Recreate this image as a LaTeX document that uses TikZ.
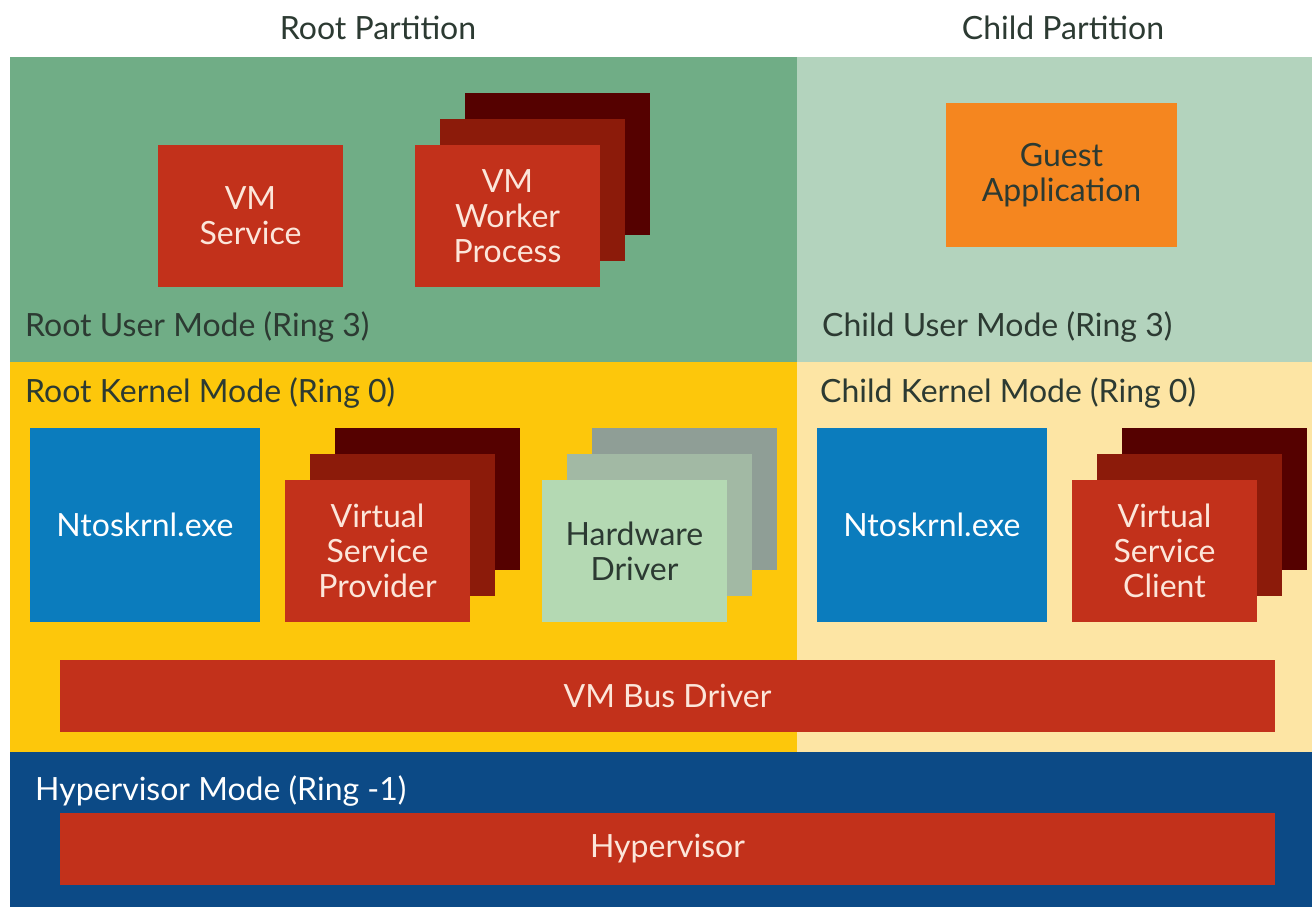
\documentclass[tikz,border=0pt]{standalone}
\usepackage{fontspec}
\setmainfont{Lato}
\definecolor{rootuser}{HTML}{70AD86}
\definecolor{childuser}{HTML}{B3D3BD}
\definecolor{rootkernel}{HTML}{FDC70B}
\definecolor{childkernel}{HTML}{FDE5A4}
\definecolor{hyperblue}{HTML}{0C4A86}
\definecolor{redfront}{HTML}{C2311B}
\definecolor{redmid}{HTML}{8C1B0A}
\definecolor{redback}{HTML}{550100}
\definecolor{ntblue}{HTML}{0B7CBD}
\definecolor{guestorange}{HTML}{F5861F}
\definecolor{hwfront}{HTML}{B4D9B3}
\definecolor{hwmid}{HTML}{A2B9A4}
\definecolor{hwback}{HTML}{8F9E96}
\definecolor{labeltext}{HTML}{2C3A32}
\definecolor{lighttext}{HTML}{FCE6DA}
\begin{document}
\begin{tikzpicture}[x=1pt,y=-1pt,
  area/.style={anchor=north west, inner sep=0pt, outer sep=0pt},
  blk/.style={anchor=north west, inner sep=0pt, outer sep=0pt, align=center,
    font=\fontsize{32}{35}\selectfont, text=lighttext},
  redbox/.style={blk, fill=redfront, minimum width=185pt, minimum height=142pt},
  midbox/.style={blk, fill=redmid, minimum width=185pt, minimum height=142pt},
  backbox/.style={blk, fill=redback, minimum width=185pt, minimum height=142pt},
  modelabel/.style={anchor=west, inner sep=0pt, font=\fontsize{32}{36}\selectfont, text=labeltext},
  title/.style={inner sep=0pt, font=\fontsize{32}{36}\selectfont, text=labeltext}]
\useasboundingbox (0,0) rectangle (1312,907);
\fill[white] (0,0) rectangle (1312,907);

% partition titles
\node[title] (roottitle) at (378,28) {Root Partition};
\node[title] (childtitle) at (1063,28) {Child Partition};

% privilege-level areas
\node[area, fill=rootuser, minimum width=787pt, minimum height=305pt] (rootuser) at (10,57) {};
\node[area, fill=childuser, minimum width=515pt, minimum height=305pt] (childuser) at (797,57) {};
\node[area, fill=rootkernel, minimum width=787pt, minimum height=390pt] (rootkernel) at (10,362) {};
\node[area, fill=childkernel, minimum width=515pt, minimum height=390pt] (childkernel) at (797,362) {};
\node[area, fill=hyperblue, minimum width=1302pt, minimum height=155pt] (hypermode) at (10,752) {};

% area labels
\node[modelabel] (rulabel) at (25,327) {Root User Mode (Ring 3)};
\node[modelabel] (culabel) at (822,327) {Child User Mode (Ring 3)};
\node[modelabel] (rklabel) at (25,393) {Root Kernel Mode (Ring 0)};
\node[modelabel] (cklabel) at (820,393) {Child Kernel Mode (Ring 0)};
\node[modelabel, text=white] (hvlabel) at (35,791) {Hypervisor Mode (Ring -1)};

% root user mode
\node[redbox] (vmsvc) at (158,145) {VM\\Service};
\node[backbox] (vmwpback) at (465,93) {};
\node[midbox] (vmwpmid) at (440,119) {};
\node[redbox] (vmwp) at (415,145) {VM\\Worker\\Process};

% child user mode
\node[blk, fill=guestorange, minimum width=231pt, minimum height=144pt, text=labeltext] (guest) at (946,103) {Guest\\Application};

% root kernel mode
\node[blk, fill=ntblue, minimum width=230pt, minimum height=194pt, text=white] (ntroot) at (30,428) {Ntoskrnl.exe};
\node[backbox] (vspback) at (335,428) {};
\node[midbox] (vspmid) at (310,454) {};
\node[redbox] (vsp) at (285,480) {Virtual\\Service\\Provider};
\node[backbox, fill=hwback] (hwback) at (592,428) {};
\node[midbox, fill=hwmid] (hwmid) at (567,454) {};
\node[redbox, fill=hwfront, text=labeltext] (hw) at (542,480) {Hardware\\Driver};

% child kernel mode
\node[blk, fill=ntblue, minimum width=230pt, minimum height=194pt, text=white] (ntchild) at (817,428) {Ntoskrnl.exe};
\node[backbox] (vscback) at (1122,428) {};
\node[midbox] (vscmid) at (1097,454) {};
\node[redbox] (vsc) at (1072,480) {Virtual\\Service\\Client};

% shared bars
\node[blk, fill=redfront, minimum width=1215pt, minimum height=72pt] (vmbus) at (60,660) {VM Bus Driver};
\node[blk, fill=redfront, minimum width=1215pt, minimum height=72pt] (hypervisor) at (60,813) {Hypervisor};
\end{tikzpicture}
\end{document}
